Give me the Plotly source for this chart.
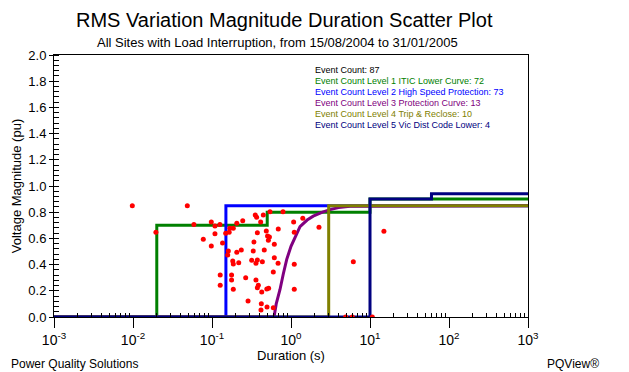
import plotly.graph_objects as go

FONT = "Liberation Sans, Arial, sans-serif"
NARROW = "Liberation Sans Narrow, Arial Narrow, Liberation Sans, Arial, sans-serif"

# Event scatter (duration s, magnitude pu)
ev_dur = [0.0098, 0.0487, 0.0195, 0.059, 0.098, 0.109, 0.126, 0.109, 0.0776, 0.098,
          0.136, 0.149, 0.161, 0.158, 0.183, 0.186, 0.218, 0.206, 0.235, 0.177,
          0.177, 0.127, 0.127, 0.186, 0.267, 0.286, 0.165, 0.168, 0.186, 0.206,
          0.245, 0.353, 0.367, 0.446, 0.413, 0.542, 0.792, 0.375, 0.487, 0.505,
          0.533, 0.517, 0.690, 0.340, 0.615, 0.459, 0.333, 0.375, 0.318, 0.360,
          0.434, 0.615, 0.686, 0.597, 0.360, 0.386, 0.375, 0.426, 0.494, 0.521,
          0.421, 0.417, 0.497, 0.597, 1.08, 1.41, 1.10, 2.26, 1.10, 1.10,
          6.15, 15.0, 4.92, 5.97, 10.7]
ev_mag = [0.85, 0.85, 0.646, 0.707, 0.725, 0.695, 0.707, 0.636, 0.593, 0.542,
          0.565, 0.639, 0.504, 0.473, 0.427, 0.405, 0.415, 0.494, 0.511, 0.321,
          0.282, 0.321, 0.242, 0.211, 0.300, 0.122, 0.646, 0.677, 0.677, 0.715,
          0.735, 0.779, 0.761, 0.779, 0.725, 0.804, 0.804, 0.644, 0.656, 0.618,
          0.611, 0.585, 0.672, 0.573, 0.555, 0.511, 0.504, 0.435, 0.433, 0.41,
          0.422, 0.453, 0.41, 0.344, 0.282, 0.242, 0.224, 0.191, 0.214, 0.219,
          0.102, 0.053, 0.076, 0.071, 0.725, 0.753, 0.646, 0.685, 0.402, 0.211,
          0.422, 0.654, 0.0, 0.0, 0.0]

# Level curves
itic_x = [0.001, 0.02, 0.02, 0.5, 0.5, 10, 10, 1000]
itic_y = [0, 0, 0.7, 0.7, 0.8, 0.8, 0.9, 0.9]
hsp_x = [0.001, 0.15, 0.15, 1000]
hsp_y = [0, 0, 0.85, 0.85]
prot_x = [0.001, 0.61, 0.65, 0.726, 0.8, 0.883, 1.0, 1.3, 1.6, 1.91, 2.5, 3.12, 4.0, 5.6, 1000]
prot_y = [0, 0, 0.1, 0.21, 0.33, 0.44, 0.54, 0.69, 0.74, 0.77, 0.80, 0.82, 0.835, 0.845, 0.85]
trip_x = [0.001, 3, 3, 1000]
trip_y = [0, 0, 0.85, 0.85]
vic_x = [0.001, 10, 10, 60, 60, 1000]
vic_y = [0, 0, 0.9, 0.9, 0.94, 0.94]

x_tickvals = [0.001, 0.01, 0.1, 1, 10, 100, 1000]
x_ticktext = ["10<sup>-3</sup>", "10<sup>-2</sup>", "10<sup>-1</sup>", "10<sup>0</sup>",
              "10<sup>1</sup>", "10<sup>2</sup>", "10<sup>3</sup>"]

legend_lines = [
    ("Event Count: 87", "#000000"),
    ("Event Count Level 1 ITIC Lower Curve: 72", "#008000"),
    ("Event Count Level 2 High Speed Protection: 73", "#0000FF"),
    ("Event Count Level 3 Protection Curve: 13", "#800080"),
    ("Event Count Level 4 Trip &amp; Reclose: 10", "#808000"),
    ("Event Count Level 5 Vic Dist Code Lower: 4", "#000080"),
]

fig = go.Figure()
for xs, ys, col in [(itic_x, itic_y, "#008000"), (hsp_x, hsp_y, "#0000FF"),
                    (prot_x, prot_y, "#800080"), (trip_x, trip_y, "#808000"),
                    (vic_x, vic_y, "#000080")]:
    fig.add_trace(go.Scatter(x=xs, y=ys, mode="lines", line=dict(color=col, width=3),
                             showlegend=False, hoverinfo="skip"))
fig.add_trace(go.Scatter(x=ev_dur, y=ev_mag, mode="markers",
                         marker=dict(color="#FF0000", size=5, line=dict(width=0)),
                         showlegend=False))

minor_x = [m * 10 ** e for e in range(-3, 3) for m in range(2, 10)]

L, R, T, B = 54, 101, 55, 55
W, H = 629, 372
pw, ph = W - L - R, H - T - B

fig.update_layout(
    width=W, height=H,
    margin=dict(l=L, r=R, t=T, b=B),
    paper_bgcolor="white", plot_bgcolor="white",
    font=dict(family=FONT, color="#000000"),
    showlegend=False,
    xaxis=dict(type="log", range=[-3, 3], tickmode="array", tickvals=x_tickvals,
               ticktext=x_ticktext, ticks="outside", ticklen=10, tickcolor="#000000",
               tickfont=dict(size=14, family=FONT), showgrid=False, zeroline=False,
               showline=True, linecolor="#000000", linewidth=1, mirror=True,
               minor=dict(tickmode="array", tickvals=minor_x, ticks="inside", ticklen=4,
                          tickcolor="#000000", showgrid=False),
               title=dict(text="Duration (s)", font=dict(size=13, family=FONT), standoff=3)),
    yaxis=dict(range=[0, 2], dtick=0.2, tick0=0, tickformat=".1f", ticks="outside",
               ticklen=4, tickcolor="#000000", tickfont=dict(size=13, family=FONT),
               showgrid=False, zeroline=False, showline=True, linecolor="#000000",
               linewidth=1, mirror=True,
               minor=dict(dtick=0.04, ticks="inside", ticklen=5, tickcolor="#000000",
                          showgrid=False),
               title=dict(text="Voltage Magnitude (pu)", font=dict(size=13, family=FONT),
                          standoff=3)),
)


def px_to_paper(xp, yp):
    return (xp - L) / pw, (H - B - yp) / ph


ann = [
    ("RMS Variation Magnitude Duration Scatter Plot", 284, 20, 20, "center"),
    ("All Sites with Load Interruption, from 15/08/2004 to 31/01/2005", 277, 43, 13, "center"),
    ("Power Quality Solutions", 9, 364, 12, "left"),
    ("PQView®", 601, 364, 12, "right"),
]
for text, xp, yp, size, anchor in ann:
    xx, yy = px_to_paper(xp, yp)
    fig.add_annotation(text=text, x=xx, y=yy, xref="paper", yref="paper", showarrow=False,
                       xanchor=anchor, yanchor="middle",
                       font=dict(family=FONT, color="#000000", size=size))

for i, (t, c) in enumerate(legend_lines):
    xx, yy = px_to_paper(313, 70 + 11 * i)
    fig.add_annotation(text=t, x=xx, y=yy, xref="paper", yref="paper", showarrow=False,
                       xanchor="left", yanchor="middle",
                       font=dict(family=NARROW, size=9, color=c))

fig.write_html("out.html")
